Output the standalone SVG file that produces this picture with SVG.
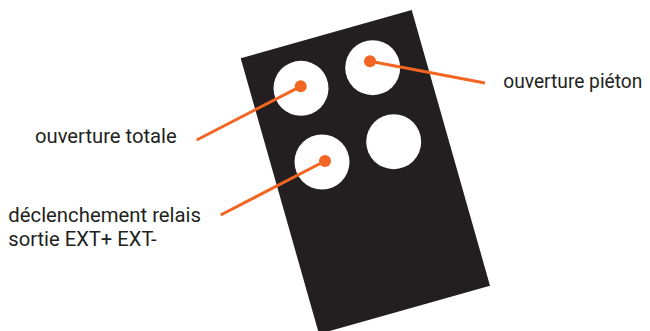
<svg xmlns="http://www.w3.org/2000/svg" width="650" height="331" viewBox="0 0 650 331">
  <style>
    .lbl { font-family: Roboto, "Liberation Sans", sans-serif; font-size: 20px; fill: #231f20; }
    .btn { fill: #ffffff; }
    .lead { stroke: #f26522; stroke-width: 3; fill: none; }
    .dot { fill: #f26522; }
  </style>
  <rect width="650" height="331" fill="#ffffff"/>
  <g id="remote">
    <polygon points="240.7,58.3 411.7,10 490,285.7 319,334" fill="#231f20"/>
    <circle class="btn" cx="301" cy="88.3" r="27.5"/>
    <circle class="btn" cx="372.7" cy="67.7" r="27.5"/>
    <circle class="btn" cx="322" cy="162" r="27.5"/>
    <circle class="btn" cx="393.7" cy="141.7" r="27.5"/>
  </g>
  <g id="connectors">
    <line class="lead" x1="370" y1="61.3" x2="485" y2="83"/>
    <circle class="dot" cx="370" cy="61.3" r="6"/>
    <line class="lead" x1="300.7" y1="86.3" x2="196.7" y2="140"/>
    <circle class="dot" cx="300.7" cy="86.3" r="6"/>
    <line class="lead" x1="325" y1="161" x2="220.7" y2="215"/>
    <circle class="dot" cx="325" cy="161" r="6"/>
  </g>
  <g id="label-pieton">
    <text class="lbl" x="503.3" y="87.5" textLength="139" lengthAdjust="spacingAndGlyphs">ouverture piéton</text>
  </g>
  <g id="label-totale">
    <text class="lbl" x="35" y="143" textLength="141.7" lengthAdjust="spacingAndGlyphs">ouverture totale</text>
  </g>
  <g id="label-relais">
    <text class="lbl" x="8.3" y="222.3" textLength="192.7" lengthAdjust="spacingAndGlyphs">déclenchement relais</text>
    <text class="lbl" x="8.3" y="245.7" textLength="148.4" lengthAdjust="spacingAndGlyphs">sortie EXT+ EXT-</text>
  </g>
</svg>
